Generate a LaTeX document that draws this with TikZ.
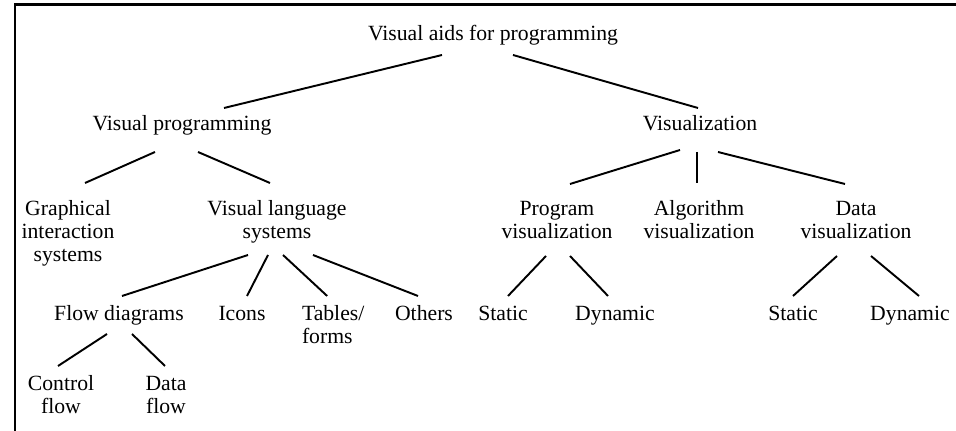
\documentclass[tikz,border=0pt]{standalone}
\usepackage{fontspec}
\setmainfont{Liberation Serif}

\begin{document}
\begin{tikzpicture}[x=0.02cm, y=-0.02cm, line width=1.1pt,
    lbl/.style={font=\fontsize{12.35}{13.3}\selectfont, inner sep=0pt, outer sep=0pt, align=center, anchor=base},
    frame/.style={line width=1.7pt}]

    \useasboundingbox (0,0) rectangle (956,431);
    \draw[frame] (15,431) -- (15,5) -- (956,5);

    % base sits on the last line of each label
    \node[lbl] (root) at (493,41) {Visual aids for programming};

    \node[lbl] (vp) at (182,131) {Visual programming};
    \node[lbl] (vis) at (700,131) {Visualization};

    \node[lbl] (gis) at (68,262) {Graphical\\interaction\\systems};
    \node[lbl] (vls) at (277,239) {Visual language\\systems};
    \node[lbl] (pv) at (557,239) {Program\\visualization};
    \node[lbl] (av) at (699,239) {Algorithm\\visualization};
    \node[lbl] (dv) at (856,239) {Data\\visualization};

    \node[lbl] (flow) at (119,321) {Flow diagrams};
    \node[lbl] (icons) at (242,321) {Icons};
    \node[lbl, align=left, anchor=base west] (tables) at (302,344) {Tables/\\forms};
    \node[lbl] (others) at (424,321) {Others};
    \node[lbl] (pstatic) at (503,321) {Static};
    \node[lbl] (pdynamic) at (615,321) {Dynamic};
    \node[lbl] (dstatic) at (793,321) {Static};
    \node[lbl] (ddynamic) at (910,321) {Dynamic};

    \node[lbl] (control) at (61,414) {Control\\flow};
    \node[lbl] (dataflow) at (166,414) {Data\\flow};

    \draw ([shift={(-51,14)}]root.base) -- ([shift={(42,-23)}]vp.base);
    \draw ([shift={(20,14)}]root.base) -- ([shift={(-2,-23)}]vis.base);

    \draw ([shift={(-27,21)}]vp.base) -- ([shift={(17,-79)}]gis.base);
    \draw ([shift={(16,21)}]vp.base) -- ([shift={(-7,-56)}]vls.base);

    \draw ([shift={(-20,19)}]vis.base) -- ([shift={(13,-55)}]pv.base);
    \draw ([shift={(-3,21)}]vis.base) -- ([shift={(-2,-56)}]av.base);
    \draw ([shift={(18,21)}]vis.base) -- ([shift={(-11,-55)}]dv.base);

    \draw ([shift={(-29,16)}]vls.base) -- ([shift={(3,-25)}]flow.base);
    \draw ([shift={(-9,16)}]vls.base) -- ([shift={(5,-25)}]icons.base);
    \draw ([shift={(6,16)}]vls.base) -- ([shift={(-6,-48)}]tables.base);
    \draw ([shift={(36,16)}]vls.base) -- ([shift={(-6,-25)}]others.base);

    \draw ([shift={(-12,13)}]flow.base) -- ([shift={(-3,-48)}]control.base);
    \draw ([shift={(13,13)}]flow.base) -- ([shift={(-1,-48)}]dataflow.base);

    \draw ([shift={(-11,17)}]pv.base) -- ([shift={(5,-25)}]pstatic.base);
    \draw ([shift={(13,17)}]pv.base) -- ([shift={(-7,-25)}]pdynamic.base);
    \draw ([shift={(-19,17)}]dv.base) -- ([shift={(0,-25)}]dstatic.base);
    \draw ([shift={(15,17)}]dv.base) -- ([shift={(9,-25)}]ddynamic.base);

\end{tikzpicture}
\end{document}
